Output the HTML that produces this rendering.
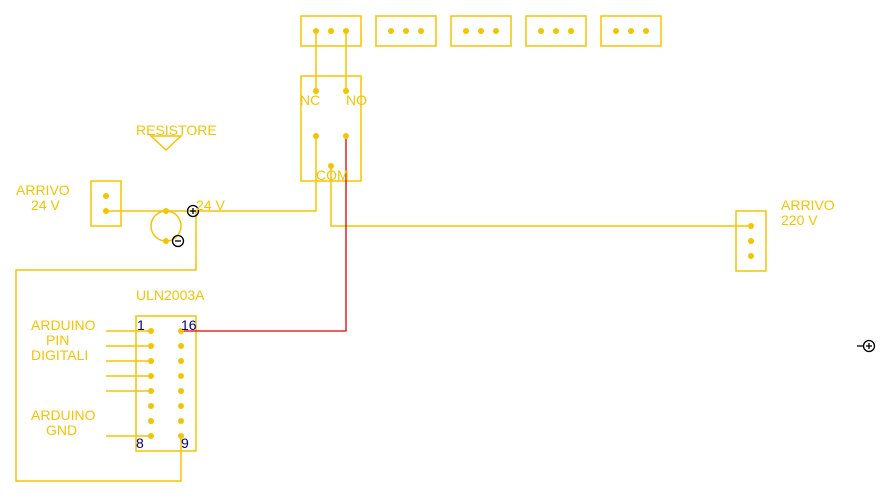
<!DOCTYPE html>
<html><head><meta charset="utf-8"><style>
html,body{margin:0;padding:0;background:#fff;}
svg{display:block;}
text{font-family:"Liberation Sans",sans-serif;font-size:14px;fill:#f5c400;}
.n{fill:#000080;}
</style></head><body>
<svg width="891" height="498" viewBox="0 0 891 498">
<g fill="none" stroke="#f5c400" stroke-width="1.5">
<rect x="301" y="16" width="60" height="30"/>
<rect x="376" y="16" width="60" height="30"/>
<rect x="451" y="16" width="60" height="30"/>
<rect x="526" y="16" width="60" height="30"/>
<rect x="601" y="16" width="60" height="30"/>
<rect x="301" y="76" width="60" height="105"/>
<rect x="91" y="181" width="30" height="45"/>
<rect x="736" y="211" width="30" height="60"/>
<rect x="136" y="316" width="60" height="135"/>
<polyline points="316,31 316,91"/>
<polyline points="346,31 346,91"/>
<polyline points="106,211 316,211 316,136"/>
<polyline points="331,166 331,226 751,226"/>
<circle cx="166" cy="226" r="15"/>
<polygon points="151,136 181,136 166,150"/>
<polyline points="196,211 196,270 16,270 16,481 181,481 181,436"/>
<line x1="106" y1="331" x2="151" y2="331"/>
<line x1="106" y1="346" x2="151" y2="346"/>
<line x1="106" y1="361" x2="151" y2="361"/>
<line x1="106" y1="376" x2="151" y2="376"/>
<line x1="106" y1="391" x2="151" y2="391"/>
<line x1="106" y1="436" x2="151" y2="436"/>
</g>
<polyline points="346,136 346,331 181,331" fill="none" stroke="#e00000" stroke-width="1.3"/>
<g fill="#f5c400">
<circle cx="316" cy="31" r="3"/><circle cx="331" cy="31" r="3"/><circle cx="346" cy="31" r="3"/>
<circle cx="391" cy="31" r="3"/><circle cx="406" cy="31" r="3"/><circle cx="421" cy="31" r="3"/>
<circle cx="466" cy="31" r="3"/><circle cx="481" cy="31" r="3"/><circle cx="496" cy="31" r="3"/>
<circle cx="541" cy="31" r="3"/><circle cx="556" cy="31" r="3"/><circle cx="571" cy="31" r="3"/>
<circle cx="616" cy="31" r="3"/><circle cx="631" cy="31" r="3"/><circle cx="646" cy="31" r="3"/>
<circle cx="316" cy="91" r="3"/><circle cx="346" cy="91" r="3"/>
<circle cx="316" cy="136" r="3"/><circle cx="346" cy="136" r="3"/><circle cx="331" cy="166" r="3"/>
<circle cx="106" cy="196" r="3"/><circle cx="106" cy="211" r="3"/>
<circle cx="166" cy="211" r="3"/><circle cx="166" cy="241" r="3"/>
<circle cx="751" cy="226" r="3"/><circle cx="751" cy="241" r="3"/><circle cx="751" cy="256" r="3"/>
<circle cx="151" cy="331" r="3"/><circle cx="151" cy="346" r="3"/><circle cx="151" cy="361" r="3"/><circle cx="151" cy="376" r="3"/>
<circle cx="151" cy="391" r="3"/><circle cx="151" cy="406" r="3"/><circle cx="151" cy="421" r="3"/><circle cx="151" cy="436" r="3"/>
<circle cx="181" cy="331" r="3"/><circle cx="181" cy="346" r="3"/><circle cx="181" cy="361" r="3"/><circle cx="181" cy="376" r="3"/>
<circle cx="181" cy="391" r="3"/><circle cx="181" cy="406" r="3"/><circle cx="181" cy="421" r="3"/><circle cx="181" cy="436" r="3"/>
</g>
<g fill="none" stroke="#000" stroke-width="1.3">
<circle cx="193" cy="211" r="5.5"/><line x1="190" y1="211" x2="196" y2="211"/><line x1="193" y1="208" x2="193" y2="214"/>
<circle cx="178" cy="241" r="5.5"/><line x1="175" y1="241" x2="181" y2="241"/>
<circle cx="869" cy="346" r="5.5"/><line x1="866" y1="346" x2="872" y2="346"/><line x1="869" y1="343" x2="869" y2="349"/><line x1="857" y1="346" x2="863" y2="346"/>
</g>
<text x="300" y="105">NC</text>
<text x="346" y="105">NO</text>
<text x="316" y="180">COM</text>
<text x="136" y="135">RESISTORE</text>
<text x="16" y="195">ARRIVO</text>
<text x="31" y="210">24 V</text>
<text x="196" y="210">24 V</text>
<text x="781" y="210">ARRIVO</text>
<text x="781" y="225">220 V</text>
<text x="136" y="300">ULN2003A</text>
<text x="31" y="330">ARDUINO</text>
<text x="46" y="345">PIN</text>
<text x="31" y="360">DIGITALI</text>
<text x="31" y="420">ARDUINO</text>
<text x="46" y="435">GND</text>
<text class="n" x="137" y="330">1</text>
<text class="n" x="181" y="330">16</text>
<text class="n" x="136" y="448">8</text>
<text class="n" x="181" y="448">9</text>
</svg>
</body></html>
